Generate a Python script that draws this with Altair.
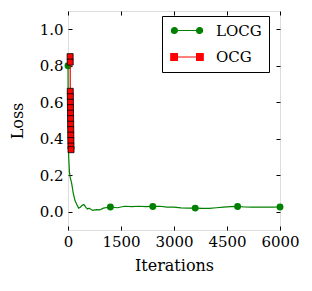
import altair as alt
import pandas as pd

# ---- data ----
locg_iter = [0, 5, 10, 20, 40, 60, 100, 150, 200, 250, 300, 350, 400, 450, 500,
             550, 600, 650, 700, 800, 900, 1000, 1200, 1400, 1600, 1800, 2000,
             2200, 2400, 2600, 2800, 3000, 3200, 3400, 3600, 3800, 4000, 4200,
             4400, 4600, 4800, 5000, 5200, 5400, 5600, 5800, 6000]
locg_loss = [0.80, 0.55, 0.40, 0.30, 0.22, 0.19, 0.16, 0.10, 0.06, 0.04, 0.02,
             0.025, 0.035, 0.04, 0.025, 0.015, 0.02, 0.012, 0.008, 0.012, 0.01,
             0.02, 0.026, 0.022, 0.03, 0.028, 0.03, 0.028, 0.029, 0.03, 0.025,
             0.025, 0.021, 0.02, 0.02, 0.018, 0.018, 0.022, 0.025, 0.028, 0.029,
             0.026, 0.025, 0.025, 0.025, 0.025, 0.026]
locg_marker_iter = [0, 1200, 2400, 3600, 4800, 6000]
locg_marker_loss = [0.80, 0.026, 0.029, 0.020, 0.029, 0.026]

ocg_iter = [60, 62, 64, 66, 68, 70, 72, 74, 76, 78, 80, 82, 84, 86]
ocg_loss = [0.85, 0.82, 0.66, 0.63, 0.60, 0.57, 0.54, 0.51, 0.48, 0.45, 0.42,
            0.39, 0.36, 0.34]

series = ["LOCG", "OCG"]
series_colors = ["#008000", "#ff0000"]
x_ticks = [0, 1500, 3000, 4500, 6000]
y_ticks = [0.0, 0.2, 0.4, 0.6, 0.8, 1.0]

FONT = "DejaVu Serif"
W, H = 212, 219

locg = pd.DataFrame({"iter": locg_iter, "loss": locg_loss})
locg_m = pd.DataFrame({"iter": locg_marker_iter, "loss": locg_marker_loss})
ocg = pd.DataFrame({"iter": ocg_iter, "loss": ocg_loss})
leg = pd.DataFrame({"series": series})

xs = alt.Scale(domain=[0, 6000], nice=False, zero=False)
ys = alt.Scale(domain=[-0.1, 1.1], nice=False, zero=False)

def xenc(axis):
    return alt.X("iter:Q", scale=xs, axis=axis)

def yenc(axis):
    return alt.Y("loss:Q", scale=ys, axis=axis)

main = alt.Chart(locg).mark_line(color=series_colors[0], strokeWidth=1.2).encode(
    x=xenc(alt.Axis(values=x_ticks, format="d", title="Iterations", ticks=False,
                    domain=False, grid=False, labelFont=FONT, labelFontSize=15,
                    labelPadding=4, labelColor="black", titleFont=FONT,
                    titleFontSize=16, titleFontWeight="normal", titleColor="black",
                    titlePadding=8, labelFlush=False)),
    y=yenc(alt.Axis(values=y_ticks, format=".1f", title="Loss", ticks=False,
                    domain=False, grid=False, labelFont=FONT, labelFontSize=15,
                    labelPadding=5, labelColor="black", titleFont=FONT,
                    titleFontSize=16, titleFontWeight="normal", titleColor="black",
                    titlePadding=14)),
)

locg_pts = alt.Chart(locg_m).mark_point(filled=True, shape="circle", size=48,
                                          color=series_colors[0], opacity=1).encode(
    x=xenc(None), y=yenc(None))

ocg_line = alt.Chart(ocg).mark_line(color=series_colors[1], strokeWidth=1.2).encode(
    x=xenc(None), y=yenc(None))

ocg_pts = alt.Chart(ocg).mark_point(filled=True, shape="square", size=36,
                                      fill=series_colors[1], stroke="black",
                                      strokeWidth=0.8, opacity=1).encode(
    x=xenc(None), y=yenc(None))

# inside ticks (mirrored on all four sides)
tick_kw = dict(labels=False, ticks=True, tickSize=4, tickColor="black", tickWidth=1,
               domain=False, grid=False, title=None)
ticks_a = alt.Chart(locg).mark_line(opacity=0).encode(
    x=xenc(alt.Axis(orient="top", offset=-H, values=x_ticks, **tick_kw)),
    y=yenc(alt.Axis(orient="right", offset=-W, values=y_ticks, **tick_kw)),
)
ticks_b = alt.Chart(locg).mark_line(opacity=0).encode(
    x=xenc(alt.Axis(orient="bottom", offset=-H, values=x_ticks, **tick_kw)),
    y=yenc(alt.Axis(orient="left", offset=-W, values=y_ticks, **tick_kw)),
)

# legend (line + marker glyphs)
circ_path = ("M-2.6,0A0.5,0.5 0 1,1 -1.6,0A0.5,0.5 0 1,1 -2.6,0Z "
             "M1.6,0A0.5,0.5 0 1,1 2.6,0A0.5,0.5 0 1,1 1.6,0Z M-1.6,0L1.6,0")
sq_path = ("M-2.7,-0.55H-1.6V0.55H-2.7Z M1.6,-0.55H2.7V0.55H1.6Z M-1.6,0L1.6,0")

legend_layer = alt.Chart(leg).transform_filter("false").mark_point(
    filled=True, strokeWidth=1.2).encode(
    x=xenc(None), y=yenc(None),
    fill=alt.Fill("series:N", scale=alt.Scale(domain=series, range=series_colors),
                  legend=alt.Legend(title=None)),
    stroke=alt.Stroke("series:N", scale=alt.Scale(domain=series, range=series_colors),
                      legend=alt.Legend(title=None)),
    shape=alt.Shape("series:N", scale=alt.Scale(domain=series, range=[circ_path, sq_path]),
                    legend=alt.Legend(
                        title=None, orient="none", legendX=94, legendY=5,
                        padding=7, strokeColor="black", fillColor="white",
                        cornerRadius=0, symbolSize=144, symbolOffset=10.5,
                        labelOffset=21.5, rowPadding=10.5, symbolOpacity=1,
                        symbolStrokeWidth=1.2, labelFont=FONT, labelFontSize=15,
                        labelColor="black",
                        labelExpr="datum.label + '\u00a0\u00a0\u00a0'")),
)

chart = alt.layer(main, locg_pts, ocg_line, ocg_pts, ticks_a, ticks_b, legend_layer).resolve_axis(
    x="independent", y="independent"
).properties(
    width=W, height=H,
    autosize=alt.AutoSizeParams(type="none"),
    padding={"left": 60, "top": 3, "right": 24, "bottom": 50},
).configure_view(stroke="black", strokeWidth=1).configure(background="white")

chart.save("out.html", embed_options={"renderer": "svg", "actions": False})
